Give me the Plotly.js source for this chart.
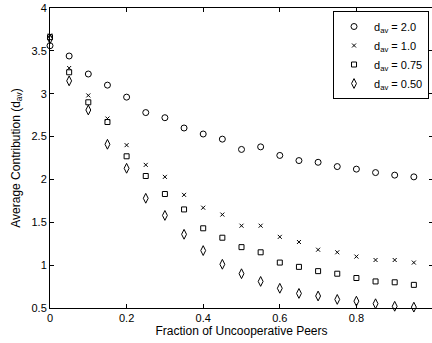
<!DOCTYPE html>
<html>
<head>
<meta charset="utf-8">
<script src="https://cdn.plot.ly/plotly-3.0.1.min.js"></script>
<style>
html,body{margin:0;padding:0;overflow:hidden;background:#fff;width:432px;height:343px;}
#chart{width:434px;height:343px;}
</style>
</head>
<body>
<div id="chart"></div>
<script>
const fraction = [0,0.05,0.1,0.15,0.2,0.25,0.3,0.35,0.4,0.45,0.5,0.55,0.6,0.65,0.7,0.75,0.8,0.85,0.9,0.95];
const d20  = [3.56,3.44,3.23,3.10,2.96,2.78,2.72,2.60,2.53,2.47,2.35,2.38,2.28,2.22,2.20,2.15,2.12,2.08,2.05,2.03];
const d10  = [3.68,3.30,2.98,2.71,2.40,2.17,2.03,1.82,1.67,1.59,1.46,1.46,1.33,1.27,1.18,1.15,1.10,1.06,1.06,1.03];
const d075 = [3.66,3.25,2.90,2.67,2.27,2.04,1.83,1.65,1.43,1.32,1.21,1.15,1.03,0.98,0.93,0.90,0.85,0.81,0.80,0.77];
const d050 = [3.64,3.15,2.81,2.41,2.13,1.78,1.58,1.36,1.17,1.01,0.90,0.81,0.73,0.67,0.64,0.60,0.58,0.55,0.52,0.51];
const names = ['d<sub>av</sub> = 2.0','d<sub>av</sub> = 1.0','d<sub>av</sub> = 0.75','d<sub>av</sub> = 0.50'];
const xTickVals = [0,0.2,0.4,0.6,0.8,1];
const xTickText = ['0','0.2','0.4','0.6','0.8','1'];
const yTickVals = [0.5,1,1.5,2,2.5,3,3.5,4];
const yTickText = ['0.5','1','1.5','2','2.5','3','3.5','4'];

const series = [d20,d10,d075,d050];
const symbols = ['circle-open','x-thin-open','square-open','diamond-tall-open'];
const sizes = [6,4,5,7];
const traces = series.map((s,i)=>({
  x: fraction, y: s, name: names[i], type:'scatter', mode:'markers',
  marker:{symbol:symbols[i], size:sizes[i], color:'black', line:{color:'black', width:1}},
  cliponaxis:false
}));

const axisCommon = {
  showline:true, linecolor:'black', linewidth:1, mirror:'allticks',
  ticks:'inside', ticklen:4, tickcolor:'black', showgrid:false, zeroline:false,
  tickfont:{family:'Liberation Sans, Arial, sans-serif', size:11, color:'black'}
};

const layout = {
  width:434, height:343,
  margin:{l:50, r:1, t:8, b:35},
  paper_bgcolor:'white', plot_bgcolor:'white',
  font:{family:'Liberation Sans, Arial, sans-serif', size:12, color:'black'},
  xaxis: Object.assign({}, axisCommon, {
    range:[0,1], tickvals:xTickVals, ticktext:xTickText,
    title:{text:'Fraction of Uncooperative Peers', standoff:2, font:{size:12}}
  }),
  yaxis: Object.assign({}, axisCommon, {
    range:[0.5,4], tickvals:yTickVals, ticktext:yTickText,
    title:{text:'Average Contribution (d<sub>av</sub>)', standoff:8, font:{size:12}}
  }),
  showlegend:true,
  legend:{
    x:0.9896, y:0.99, xanchor:'right', yanchor:'top',
    bgcolor:'white', bordercolor:'black', borderwidth:1,
    font:{size:11}, itemwidth:30, tracegroupgap:0
  }
};

Plotly.newPlot('chart', traces, layout, {displayModeBar:false, staticPlot:true});
</script>
</body>
</html>
